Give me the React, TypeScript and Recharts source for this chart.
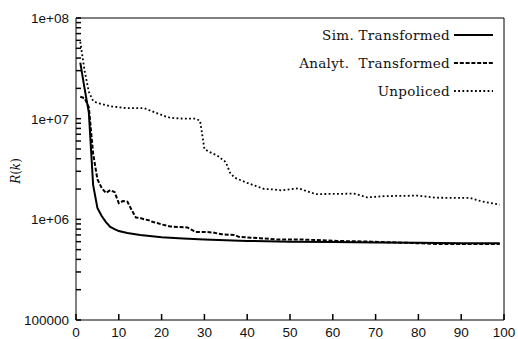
import { Legend, Line, LineChart, XAxis, YAxis } from 'recharts';

// iteration k
const simK = [1, 2, 3, 4, 5, 6, 7, 8, 9, 10, 12, 15, 20, 25, 30, 35, 40, 50, 60, 70, 80, 90, 99];
const simR = [
  3.6e7, 2.0e7, 1.15e7, 2.2e6, 1.3e6, 1.08e6, 9.4e5, 8.4e5, 8.0e5, 7.65e5, 7.3e5, 7.0e5,
  6.65e5, 6.45e5, 6.3e5, 6.2e5, 6.1e5, 6.0e5, 5.95e5, 5.9e5, 5.85e5, 5.8e5, 5.8e5,
];

const anaK = [
  1, 2, 3, 4, 5, 6, 7, 8, 9, 10, 11, 12, 13, 14, 15, 16, 17, 18, 19, 20, 22, 24, 26, 28, 30, 32,
  34, 37, 38, 43, 47, 53, 61, 69, 77, 84, 92, 99,
];
const anaR = [
  1.65e7, 1.6e7, 1.3e7, 4.5e6, 2.5e6, 2.05e6, 1.83e6, 1.95e6, 1.87e6, 1.45e6, 1.52e6, 1.5e6,
  1.24e6, 1.04e6, 1.03e6, 1.0e6, 9.8e5, 9.4e5, 9.2e5, 8.9e5, 8.5e5, 8.4e5, 8.3e5, 7.5e5, 7.5e5,
  7.4e5, 7.1e5, 7.0e5, 6.7e5, 6.5e5, 6.3e5, 6.3e5, 6.1e5, 6.0e5, 5.85e5, 5.7e5, 5.7e5, 5.7e5,
];

const unpK = [
  1, 2, 3, 4, 5, 6, 8, 10, 12, 16, 17, 19, 21, 22, 25, 28, 29, 30, 31, 33, 35, 36, 37, 40, 44, 45,
  48, 52, 54, 56, 65, 68, 72, 80, 84, 92, 95, 99,
];
const unpR = [
  5.8e7, 3.0e7, 1.85e7, 1.5e7, 1.43e7, 1.4e7, 1.33e7, 1.3e7, 1.27e7, 1.27e7, 1.22e7, 1.13e7,
  1.05e7, 1.02e7, 1.0e7, 1.0e7, 9.5e6, 5.0e6, 4.7e6, 4.3e6, 3.7e6, 2.9e6, 2.6e6, 2.3e6, 2.0e6,
  2.0e6, 1.94e6, 2.03e6, 1.9e6, 1.78e6, 1.8e6, 1.65e6, 1.7e6, 1.72e6, 1.64e6, 1.63e6, 1.5e6, 1.4e6,
];

const xTicks = [0, 10, 20, 30, 40, 50, 60, 70, 80, 90, 100];
const yMajor = [1e5, 1e6, 1e7, 1e8];
const yLabels = ['100000', '1e+06', '1e+07', '1e+08'];
const yTicks = [
  1e5, 2e5, 3e5, 4e5, 5e5, 6e5, 7e5, 8e5, 9e5,
  1e6, 2e6, 3e6, 4e6, 5e6, 6e6, 7e6, 8e6, 9e6,
  1e7, 2e7, 3e7, 4e7, 5e7, 6e7, 7e7, 8e7, 9e7, 1e8,
];

const sim = simK.map((k, i) => ({ k, r: simR[i] }));
const ana = anaK.map((k, i) => ({ k, r: anaR[i] }));
const unp = unpK.map((k, i) => ({ k, r: unpR[i] }));

const series = [
  { name: 'Sim. Transformed', data: sim, dash: undefined, width: 2 },
  { name: 'Analyt.  Transformed', data: ana, dash: '4 1.8', width: 2 },
  { name: 'Unpoliced', data: unp, dash: '1.8 2.4', width: 1.8 },
];

const tickFont = { fontFamily: '"Liberation Sans", Arial, sans-serif', fontSize: 13.5, fill: '#111' };
const axisStroke = { stroke: '#000', strokeWidth: 1 };
const tickStroke = { stroke: '#000', strokeWidth: 1.5 };

// tick lines point inward (negative tickSize); labels get pushed back outside
const BottomLabel = ({ x, y, payload }: any) => (
  <text x={x} y={y + 22.5} textAnchor="middle" {...tickFont}>
    {payload.value}
  </text>
);

const LeftLabel = ({ x, y, payload }: any) => {
  const idx = yMajor.indexOf(payload.value);
  if (idx < 0) return <g />;
  return (
    <text x={x - 12} y={y + 5} textAnchor="end" {...tickFont}>
      {yLabels[idx]}
    </text>
  );
};

const LegendBox = () => (
  <div
    style={{
      fontFamily: '"DejaVu Serif", serif',
      fontSize: 13.5,
      letterSpacing: 0.3,
      color: '#111',
      whiteSpace: 'pre',
    }}
  >
    {series.map((s) => (
      <div
        key={s.name}
        style={{ display: 'flex', justifyContent: 'flex-end', alignItems: 'center', height: 28 }}
      >
        <span>{s.name}</span>
        <svg width={39} height={6} style={{ marginLeft: 4 }}>
          <line
            x1={0}
            x2={39}
            y1={3}
            y2={3}
            stroke="#000"
            strokeWidth={s.width}
            strokeDasharray={s.dash}
          />
        </svg>
      </div>
    ))}
  </div>
);

export default function App() {
  return (
    <div style={{ position: 'absolute', left: 0, top: 0 }}>
      <LineChart width={518} height={339} margin={{ top: 17, right: 13, bottom: 0, left: 0 }}>
        <XAxis
          xAxisId="b"
          type="number"
          dataKey="k"
          domain={[0, 100]}
          ticks={xTicks}
          interval={0}
          height={19}
          tickSize={-6}
          tickMargin={0}
          axisLine={axisStroke}
          tickLine={tickStroke}
          tick={<BottomLabel />}
        />
        <XAxis
          xAxisId="t"
          orientation="top"
          type="number"
          dataKey="k"
          domain={[0, 100]}
          ticks={xTicks}
          interval={0}
          height={1}
          tickSize={-6}
          tickMargin={0}
          axisLine={axisStroke}
          tickLine={tickStroke}
          tick={false}
        />
        <YAxis
          yAxisId="l"
          type="number"
          scale="log"
          domain={[1e5, 1e8]}
          allowDataOverflow
          ticks={yTicks}
          interval={0}
          width={76}
          tickSize={-5}
          tickMargin={0}
          axisLine={axisStroke}
          tickLine={tickStroke}
          tick={<LeftLabel />}
          label={{
            content: () => (
              <text
                transform="translate(20,171) rotate(-90)"
                textAnchor="middle"
                fontFamily='"DejaVu Serif", serif'
                fontSize={12}
                fill="#111"
              >
                <tspan fontStyle="italic">R</tspan>(<tspan fontStyle="italic">k</tspan>)
              </text>
            ),
          }}
        />
        <YAxis
          yAxisId="r"
          orientation="right"
          type="number"
          scale="log"
          domain={[1e5, 1e8]}
          allowDataOverflow
          ticks={yTicks}
          interval={0}
          width={1}
          tickSize={-5}
          tickMargin={0}
          axisLine={axisStroke}
          tickLine={tickStroke}
          tick={false}
        />
        <Legend
          layout="vertical"
          align="center"
          verticalAlign="middle"
          content={<LegendBox />}
          wrapperStyle={{ top: 21, right: 25, left: 'auto', bottom: 'auto', width: 'auto' }}
        />
        {series.map((s) => (
          <Line
            key={s.name}
            xAxisId="b"
            yAxisId="l"
            data={s.data}
            dataKey="r"
            name={s.name}
            type="linear"
            stroke="#000"
            strokeWidth={s.width}
            strokeDasharray={s.dash}
            dot={false}
            isAnimationActive={false}
          />
        ))}
      </LineChart>
    </div>
  );
}
